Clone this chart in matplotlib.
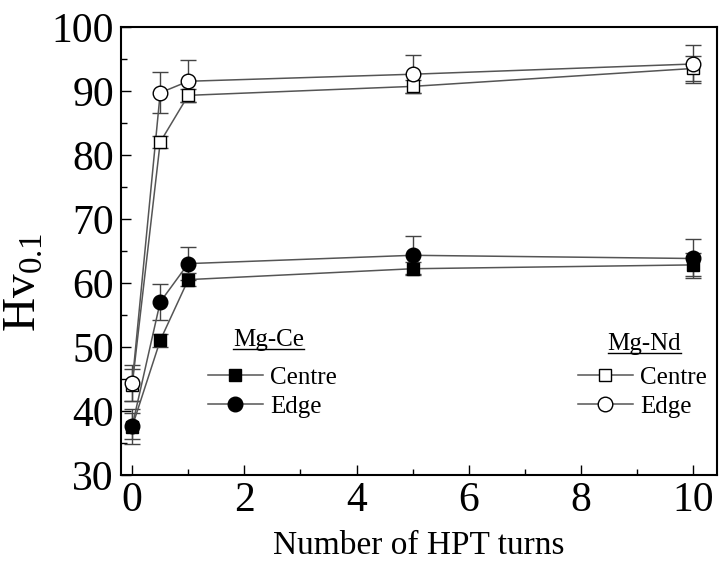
import numpy as np
import matplotlib.pyplot as plt
from matplotlib.lines import Line2D

plt.rcParams['font.family'] = ['Liberation Serif', 'DejaVu Serif']
plt.rcParams['mathtext.fontset'] = 'custom'
plt.rcParams['mathtext.rm'] = 'Liberation Serif'

# Data
turns = [0, 0.5, 1, 5, 10]

ce_centre = [37.5, 51.0, 60.5, 62.2, 62.8]
ce_centre_err = [2.7, 1.0, 1.0, 1.0, 1.8]
ce_edge = [37.6, 57.0, 63.0, 64.3, 63.8]
ce_edge_err = [2.0, 2.8, 2.6, 3.0, 3.0]

nd_centre = [44.0, 82.0, 89.3, 90.7, 93.5]
nd_centre_err = [2.5, 1.0, 1.0, 1.0, 2.0]
nd_edge = [44.3, 89.7, 91.5, 92.6, 94.2]
nd_edge_err = [2.8, 3.2, 3.3, 3.0, 3.0]

fig = plt.figure(figsize=(7.2, 5.72), dpi=100)
ax = fig.add_axes([0.168, 0.170, 0.828, 0.783])

line_c = '#555555'
err_c = '#444444'


def series(y, err, marker, fill, ms):
    ax.errorbar(turns, y, yerr=err, fmt='none', ecolor=err_c, elinewidth=1.0,
                capsize=5.5, capthick=1.0, zorder=2)
    ax.plot(turns, y, '-', color=line_c, lw=1.1, zorder=3)
    ax.plot(turns, y, linestyle='none', marker=marker, ms=ms, mfc=fill,
            mec='black', mew=1.0, zorder=4)


series(nd_centre, nd_centre_err, 's', 'white', 9)
series(nd_edge, nd_edge_err, 'o', 'white', 10.5)
series(ce_centre, ce_centre_err, 's', 'black', 9)
series(ce_edge, ce_edge_err, 'o', 'black', 10.5)

ax.set_xlim(-0.2, 10.43)
ax.set_ylim(30, 100)
ax.set_xticks([0, 2, 4, 6, 8, 10])
ax.set_xticks([1, 3, 5, 7, 9], minor=True)
ax.set_yticks(np.arange(30, 101, 10))
ax.set_yticks(np.arange(35, 100, 10), minor=True)
ax.tick_params(which='both', direction='in', top=False, right=False,
               labelsize=30, width=1.0)
ax.tick_params(which='major', length=7, pad=5)
ax.tick_params(which='minor', length=4)
for s in ax.spines.values():
    s.set_linewidth(1.5)

ax.set_xlabel('Number of HPT turns', fontsize=24)
ax.xaxis.set_label_coords(0.5, -0.124)
ax.set_ylabel(r'Hv$_{0.1}$', fontsize=34)
ax.yaxis.set_label_coords(-0.127, 0.43)


def handle(marker, fill, ms):
    return Line2D([], [], color=line_c, lw=1.1, marker=marker, ms=ms,
                  mfc=fill, mec='black', mew=1.0)


leg_kw = dict(frameon=False, fontsize=18, handlelength=2.2, handletextpad=0.3,
              labelspacing=0.25, borderaxespad=0, borderpad=0)
leg1 = ax.legend([handle('s', 'black', 9), handle('o', 'black', 10.5)],
                 ['Centre', 'Edge'], loc='center left',
                 bbox_to_anchor=(0.146, 0.184), **leg_kw)
ax.add_artist(leg1)
leg2 = ax.legend([handle('s', 'white', 9), handle('o', 'white', 10.5)],
                 ['Centre', 'Edge'], loc='center right',
                 bbox_to_anchor=(0.983, 0.184), **leg_kw)

t1 = ax.text(0.248, 0.300, 'Mg-Ce', transform=ax.transAxes, fontsize=18,
             ha='center', va='center')
t2 = ax.text(0.878, 0.292, 'Mg-Nd', transform=ax.transAxes, fontsize=18,
             ha='center', va='center')

# underline legend titles
fig.canvas.draw()
for t in (t1, t2):
    bb = t.get_window_extent()
    x0, y0 = fig.transFigure.inverted().transform((bb.x0, bb.y0))
    x1, _ = fig.transFigure.inverted().transform((bb.x1, bb.y0))
    fig.add_artist(Line2D([x0, x1], [y0 + 0.004, y0 + 0.004], color='black',
                          lw=1.0, transform=fig.transFigure))

fig.savefig('out.png', dpi=100)
